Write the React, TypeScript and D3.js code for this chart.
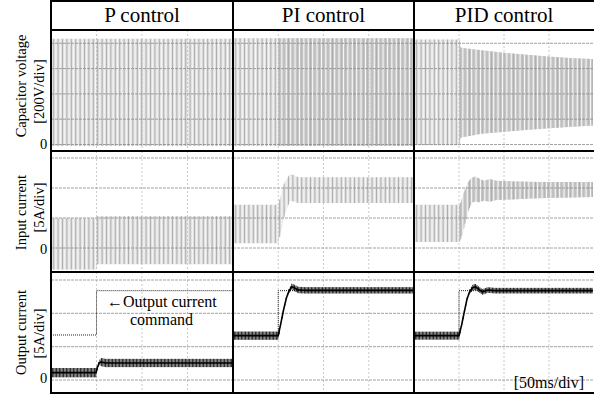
import React from "react";
import * as d3 from "d3";

const W = 594;
const H = 396;

const panelTitles = ["P control", "PI control", "PID control"];
const rowLabels = [
  ["Capacitor voltage", "[200V/div]"],
  ["Input current", "[5A/div]"],
  ["Output current", "[5A/div]"],
];
const timeTicks = [50, 100, 150]; // ms, 50 ms/div
const vTicks = [0, 200, 400, 600, 800]; // V
const iTicks = [0, 5, 10, 15]; // A

// ---- Capacitor voltage envelopes (ms, V) ----
const vcapP_t = [0, 200];
const vcapP_hi = [835, 835];
const vcapP_lo = [-12, -12];
const vcapPI_t = [0, 200];
const vcapPI_hi = [840, 840];
const vcapPI_lo = [-12, -12];
const vcapPID_t = [0, 50.5, 52, 75, 100, 125, 150, 175, 200];
const vcapPID_hi = [830, 830, 765, 745, 725, 710, 695, 683, 675];
const vcapPID_lo = [-5, -5, 55, 85, 100, 115, 128, 140, 150];

// ---- Input current envelopes (ms, A) ----
const iinP_t = [0, 49.5, 51, 200];
const iinP_hi = [4.95, 4.95, 5.3, 5.3];
const iinP_lo = [-3.6, -3.6, -2.7, -2.7];
const iinPI_t = [0, 50, 57, 63, 66, 72, 200];
const iinPI_hi = [7.2, 7.2, 11.0, 12.3, 12.2, 11.8, 11.8];
const iinPI_lo = [0.8, 0.8, 5.5, 7.9, 7.8, 7.5, 7.5];
const iinPID_t = [0, 51, 55, 60, 64, 68, 72, 78, 84, 92, 110, 140, 200];
const iinPID_hi = [7.2, 7.2, 9.0, 11.0, 11.7, 11.9, 11.6, 11.2, 11.5, 11.2, 11.1, 11.0, 11.0];
const iinPID_lo = [1.0, 1.0, 3.0, 6.0, 7.5, 7.8, 7.6, 7.9, 7.7, 8.0, 8.1, 8.3, 8.5];

// ---- Output current (ms, A) ----
const cmdP_t = [0, 50, 50, 200];
const cmdP_v = [6.75, 6.75, 13.4, 13.4];
const cmdPI_t = [0, 50, 50, 200];
const cmdPI_v = [6.65, 6.65, 13.4, 13.4];
const cmdPID_t = [0, 50, 50, 200];
const cmdPID_v = [6.65, 6.65, 13.4, 13.4];

const ioutP_t = [0, 49.5, 51, 53, 55, 60, 200];
const ioutP_v = [1.1, 1.1, 1.9, 2.6, 2.7, 2.55, 2.55];
const ioutP_r = [0.7, 0.7, 0.3, 0.3, 0.62, 0.62, 0.62];
const ioutPI_t = [0, 50, 53, 56, 59, 62, 65, 68, 72, 80, 200];
const ioutPI_v = [6.65, 6.65, 8.6, 10.6, 12.3, 13.4, 14.0, 13.8, 13.5, 13.45, 13.45];
const ioutPI_r = [0.62, 0.62, 0.12, 0.12, 0.12, 0.3, 0.45, 0.48, 0.48, 0.48, 0.48];
const ioutPID_t = [0, 50, 53, 56, 59, 62, 65, 68, 72, 76, 82, 90, 200];
const ioutPID_v = [6.65, 6.65, 8.3, 10.3, 12.2, 13.3, 13.8, 14.0, 13.6, 13.2, 13.5, 13.4, 13.4];
const ioutPID_r = [0.6, 0.6, 0.12, 0.12, 0.12, 0.3, 0.45, 0.45, 0.42, 0.42, 0.42, 0.42, 0.42];

// ---- layout ----
const colEdges = [51, 233, 414, 594];
const rowEdges = [30, 151, 272, 393];
const FONT = "Liberation Serif, Times New Roman, serif";

const xScales = [0, 1, 2].map((c) =>
  d3.scaleLinear().domain([0, 200]).range([colEdges[c], colEdges[c + 1]])
);
const yV = d3.scaleLinear().domain([0, 800]).range([144.5, 43.3]);
const yIin = d3.scaleLinear().domain([0, 15]).range([248, 158]);
const yIout = d3.scaleLinear().domain([0, 15]).range([380, 280]);

function interp(ts: number[], vs: number[], t: number) {
  if (t <= ts[0]) return vs[0];
  if (t >= ts[ts.length - 1]) return vs[vs.length - 1];
  const i = d3.bisectRight(ts, t);
  const t0 = ts[i - 1], t1 = ts[i];
  if (t1 === t0) return vs[i];
  return vs[i - 1] + ((vs[i] - vs[i - 1]) * (t - t0)) / (t1 - t0);
}

type BandProps = {
  c: number;
  ts: number[];
  hi: number[];
  lo: number[];
  y: d3.ScaleLinear<number, number>;
  dense?: boolean;
};

function Band({ c, ts, hi, lo, y, dense }: BandProps) {
  const x = xScales[c];
  const tt = d3.range(0, 200.01, 0.5);
  const area = d3
    .area<number>()
    .x((t) => x(t))
    .y0((t) => y(interp(ts, lo, t)))
    .y1((t) => y(interp(ts, hi, t)));
  const lines: React.ReactNode[] = [];
  const step = 1.1;
  let k = 0;
  for (let px = colEdges[c] + 0.5; px < colEdges[c + 1]; px += step, k++) {
    const t = x.invert(px);
    const a = y(interp(ts, hi, t));
    const b = y(interp(ts, lo, t));
    const m = k % 4;
    let col: string | null = null;
    if (m === 0) col = "#ffffff";
    else if (m === 2) col = "#9a9a9a";
    else if (dense && t > 50) col = "#b5b5b5";
    if (col)
      lines.push(
        <line key={k} x1={px} x2={px} y1={a} y2={b} stroke={col} strokeWidth={0.7} />
      );
  }
  return (
    <g>
      <path d={area(tt) || ""} fill="#e2e2e2" />
      {lines}
    </g>
  );
}

type RippleProps = {
  c: number;
  ts: number[];
  vs: number[];
  rs: number[];
};

function Ripple({ c, ts, vs, rs }: RippleProps) {
  const x = xScales[c];
  const tt = d3.range(0, 200.01, 0.5);
  const center = d3
    .line<number>()
    .x((t) => x(t))
    .y((t) => yIout(interp(ts, vs, t)));
  const bars: React.ReactNode[] = [];
  let k = 0;
  for (let px = colEdges[c]; px <= colEdges[c + 1]; px += 1.4, k++) {
    const t = x.invert(px);
    const v = interp(ts, vs, t);
    const r = interp(ts, rs, t);
    bars.push(
      <line key={k} x1={px} x2={px} y1={yIout(v + r)} y2={yIout(v - r)} stroke="#000" strokeWidth={0.9} />
    );
  }
  return (
    <g>
      <path d={center(tt) || ""} fill="none" stroke="#000" strokeWidth={1.6} />
      {bars}
    </g>
  );
}

function Command({ c, ts, vs }: { c: number; ts: number[]; vs: number[] }) {
  const x = xScales[c];
  const line = d3
    .line<number>()
    .x((_, i) => x(ts[i]))
    .y((v) => yIout(v));
  return (
    <path d={line(vs) || ""} fill="none" stroke="#222" strokeWidth={1} strokeDasharray="1,1" />
  );
}

const vcapData = [
  { ts: vcapP_t, hi: vcapP_hi, lo: vcapP_lo, dense: false },
  { ts: vcapPI_t, hi: vcapPI_hi, lo: vcapPI_lo, dense: true },
  { ts: vcapPID_t, hi: vcapPID_hi, lo: vcapPID_lo, dense: true },
];
const iinData = [
  { ts: iinP_t, hi: iinP_hi, lo: iinP_lo, dense: false },
  { ts: iinPI_t, hi: iinPI_hi, lo: iinPI_lo, dense: false },
  { ts: iinPID_t, hi: iinPID_hi, lo: iinPID_lo, dense: true },
];
const cmdData = [
  { ts: cmdP_t, vs: cmdP_v },
  { ts: cmdPI_t, vs: cmdPI_v },
  { ts: cmdPID_t, vs: cmdPID_v },
];
const ioutData = [
  { ts: ioutP_t, vs: ioutP_v, rs: ioutP_r },
  { ts: ioutPI_t, vs: ioutPI_v, rs: ioutPI_r },
  { ts: ioutPID_t, vs: ioutPID_v, rs: ioutPID_r },
];

function Grid({ r, c }: { r: number; c: number }) {
  const x = xScales[c];
  const x0 = colEdges[c], x1 = colEdges[c + 1];
  const y0 = rowEdges[r], y1 = rowEdges[r + 1];
  const ys =
    r === 0 ? vTicks.map((v) => yV(v)) : r === 1 ? iTicks.map((v) => yIin(v)) : iTicks.map((v) => yIout(v));
  return (
    <g>
      {timeTicks.map((t) => (
        <line key={"v" + t} x1={x(t)} x2={x(t)} y1={y0} y2={y1} stroke="#bdbdbd" strokeWidth={0.8} strokeDasharray="2,2" />
      ))}
      {ys.map((yy, i) => (
        <line key={"h" + i} x1={x0} x2={x1} y1={yy} y2={yy} stroke="#8a8a8a" strokeWidth={0.8} strokeDasharray="3,1" />
      ))}
    </g>
  );
}

const textStyle = { fontFamily: FONT };

export default function App() {
  const labelX1 = 25.5;
  const labelX2 = 43.5;
  const labelCenters = [
    [86, 91.5],
    [212.5, 207.5],
    [332.5, 333.5],
  ];
  const zeroY = [149, 254, 383];
  return (
    <svg
      width={W}
      height={H}
      style={{ position: "absolute", left: 0, top: 0, background: "#fff", fontFamily: FONT }}
    >
      <defs>
        {[0, 1, 2].map((r) =>
          [0, 1, 2].map((c) => (
            <clipPath id={`clip-${r}-${c}`} key={`${r}-${c}`}>
              <rect
                x={colEdges[c] + 1}
                y={rowEdges[r] + 1}
                width={colEdges[c + 1] - colEdges[c] - 2}
                height={rowEdges[r + 1] - rowEdges[r] - 2}
              />
            </clipPath>
          ))
        )}
      </defs>
      <rect x={0} y={0} width={W} height={H} fill="#fff" />

      {[0, 1, 2].map((c) => (
        <g key={"p" + c}>
          <g clipPath={`url(#clip-0-${c})`}>
            <Band c={c} ts={vcapData[c].ts} hi={vcapData[c].hi} lo={vcapData[c].lo} y={yV} dense={vcapData[c].dense} />
            <Grid r={0} c={c} />
          </g>
          <g clipPath={`url(#clip-1-${c})`}>
            <Band c={c} ts={iinData[c].ts} hi={iinData[c].hi} lo={iinData[c].lo} y={yIin} dense={iinData[c].dense} />
            <Grid r={1} c={c} />
          </g>
          <g clipPath={`url(#clip-2-${c})`}>
            <Grid r={2} c={c} />
            <Command c={c} ts={cmdData[c].ts} vs={cmdData[c].vs} />
            <Ripple c={c} ts={ioutData[c].ts} vs={ioutData[c].vs} rs={ioutData[c].rs} />
          </g>
        </g>
      ))}

      {/* frame */}
      <g stroke="#000" strokeWidth={2} fill="none">
        <line x1={51} x2={51} y1={0} y2={394} />
        <line x1={colEdges[1]} x2={colEdges[1]} y1={1} y2={394} />
        <line x1={colEdges[2]} x2={colEdges[2]} y1={1} y2={394} />
        <line x1={50} x2={W} y1={1} y2={1} />
        {rowEdges.map((y, i) => (
          <line key={i} x1={50} x2={W} y1={y} y2={y} />
        ))}
      </g>

      {/* titles */}
      {panelTitles.map((t, c) => (
        <text key={t} style={textStyle} x={(colEdges[c] + colEdges[c + 1]) / 2} y={21.5} fontSize={21} textAnchor="middle" fill="#000">
          {t}
        </text>
      ))}

      {/* row labels */}
      {rowLabels.map((lab, r) => (
        <g key={"rl" + r} fontSize={14.5} fill="#000">
          <text style={textStyle} transform={`translate(${labelX1},${labelCenters[r][0]}) rotate(-90)`} textAnchor="middle">
            {lab[0]}
          </text>
          <text style={textStyle} transform={`translate(${labelX2},${labelCenters[r][1]}) rotate(-90)`} textAnchor="middle">
            {lab[1]}
          </text>
          <text style={textStyle} x={43.5} y={zeroY[r]} textAnchor="middle">0</text>
        </g>
      ))}

      {/* annotations */}
      <g fontSize={16} fill="#000">
        <text style={textStyle} x={107} y={307}>←Output current</text>
        <text style={textStyle} x={161.5} y={325} textAnchor="middle">command</text>
        <text style={textStyle} x={584} y={388} textAnchor="end">[50ms/div]</text>
      </g>
    </svg>
  );
}
